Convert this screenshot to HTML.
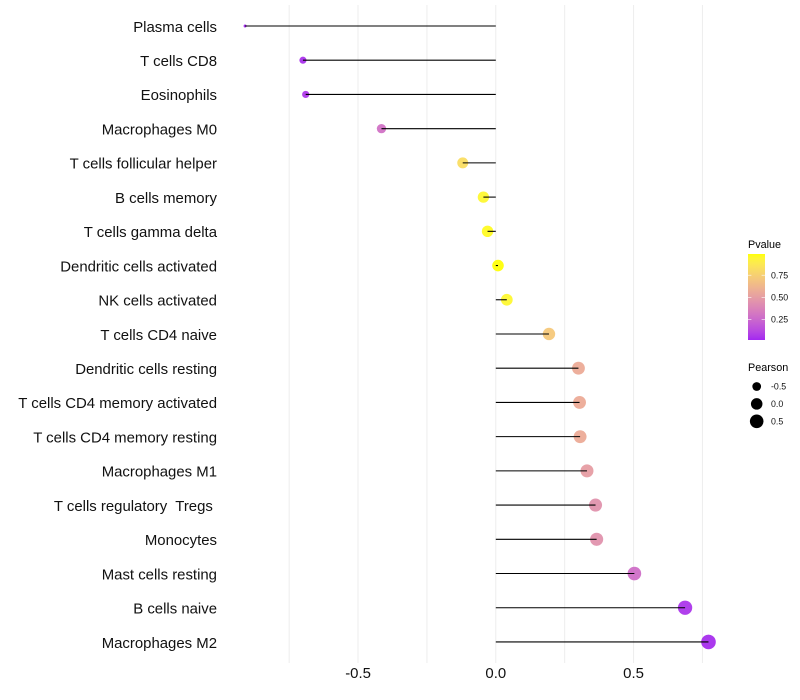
<!DOCTYPE html>
<html>
<head>
<meta charset="utf-8">
<title>Immune cell correlation lollipop chart</title>
<style>
html,body{margin:0;padding:0;background:#fff;}
svg{display:block;font-family:"Liberation Sans",sans-serif;}
text{white-space:pre;}
</style>
</head>
<body>
<svg id="chart" xmlns="http://www.w3.org/2000/svg" width="800" height="700" viewBox="0 0 800 700">
  <defs>
    <linearGradient id="pvalue-gradient" x1="0" y1="1" x2="0" y2="0"></linearGradient>
  </defs>
  <rect width="800" height="700" fill="#fff"/>
  <g id="grid"></g>
  <g id="dots"></g>
  <g id="stems"></g>
  <g id="ylabels"></g>
  <g id="xlabels"></g>
  <g id="legend-color"></g>
  <g id="legend-size"></g>
</svg>
<script>
var categories = ["Plasma cells","T cells CD8","Eosinophils","Macrophages M0","T cells follicular helper","B cells memory","T cells gamma delta","Dendritic cells activated","NK cells activated","T cells CD4 naive","Dendritic cells resting","T cells CD4 memory activated","T cells CD4 memory resting","Macrophages M1","T cells regulatory  Tregs ","Monocytes","Mast cells resting","B cells naive","Macrophages M2"];
var pearson = [-0.91,-0.70,-0.69,-0.415,-0.12,-0.045,-0.03,0.008,0.04,0.193,0.30,0.304,0.306,0.331,0.362,0.366,0.503,0.687,0.772];
var pvalues = [0.02,0.05,0.07,0.30,0.82,0.95,0.97,0.99,0.95,0.72,0.57,0.57,0.57,0.50,0.45,0.45,0.28,0.06,0.04];
var xGridValues = [-0.75,-0.5,-0.25,0,0.25,0.5,0.75];
var xTickValues = [-0.5,0,0.5];
var xTickLabels = ["-0.5","0.0","0.5"];
var colorTickValues = [0.25,0.5,0.75];
var colorTickLabels = ["0.25","0.50","0.75"];
var sizeLegendValues = [-0.5,0,0.5];
var sizeLegendLabels = ["-0.5","0.0","0.5"];

var NS = "http://www.w3.org/2000/svg";
function make(tag, parentId, attrs, text) {
  var el = document.createElementNS(NS, tag);
  for (var k in attrs) { el.setAttribute(k, attrs[k]); }
  if (text !== undefined) { el.textContent = text; }
  document.getElementById(parentId).appendChild(el);
  return el;
}

/* axis functions */
function xScale(v) { return 495.8 + v * 275.5; }
function yScale(i) { return 26 + i * 34.22; }
function pToLegendY(p) { return 341.8 - p * 88.8; }
function sizeScale(v) {
  var lo = -0.91, hi = 0.772;
  var t = Math.max(0, Math.min(1, (v - lo) / (hi - lo)));
  return 1.5 + 5.8 * Math.sqrt(t);
}

/* Lab colour interpolation purple -> yellow */
function srgbToLin(c) { c /= 255; return c <= 0.04045 ? c / 12.92 : Math.pow((c + 0.055) / 1.055, 2.4); }
function linToSrgb(c) { var v = c <= 0.0031308 ? 12.92 * c : 1.055 * Math.pow(c, 1 / 2.4) - 0.055; return Math.round(255 * Math.max(0, Math.min(1, v))); }
function fLab(t) { return t > 0.008856 ? Math.cbrt(t) : 7.787 * t + 16 / 116; }
function fInv(t) { var c = t * t * t; return c > 0.008856 ? c : (t - 16 / 116) / 7.787; }
function toLab(rgb) {
  var r = srgbToLin(rgb[0]), g = srgbToLin(rgb[1]), b = srgbToLin(rgb[2]);
  var x = (0.4124 * r + 0.3576 * g + 0.1805 * b) / 0.95047;
  var y = 0.2126 * r + 0.7152 * g + 0.0722 * b;
  var z = (0.0193 * r + 0.1192 * g + 0.9505 * b) / 1.08883;
  return [116 * fLab(y) - 16, 500 * (fLab(x) - fLab(y)), 200 * (fLab(y) - fLab(z))];
}
function fromLab(l) {
  var fy = (l[0] + 16) / 116, fx = fy + l[1] / 500, fz = fy - l[2] / 200;
  var x = fInv(fx) * 0.95047, y = fInv(fy), z = fInv(fz) * 1.08883;
  var r = 3.2406 * x - 1.5372 * y - 0.4986 * z;
  var g = -0.9689 * x + 1.8758 * y + 0.0415 * z;
  var b = 0.0557 * x - 0.2040 * y + 1.0570 * z;
  return "rgb(" + linToSrgb(r) + "," + linToSrgb(g) + "," + linToSrgb(b) + ")";
}
var labLow = toLab([160, 32, 240]);
var labHigh = toLab([255, 255, 0]);
function colorScale(p) {
  var t = Math.max(0, Math.min(1, (p - 0.02) / 0.97));
  return fromLab([
    labLow[0] + (labHigh[0] - labLow[0]) * t,
    labLow[1] + (labHigh[1] - labLow[1]) * t,
    labLow[2] + (labHigh[2] - labLow[2]) * t
  ]);
}

/* grid */
xGridValues.forEach(function (v) {
  var g = make("line", "grid", {x1: xScale(v), x2: xScale(v), y1: 5, y2: 663, stroke: "#ededed", "stroke-width": 1});
  
  
});

/* marks */
categories.forEach(function (name, i) {
  var dot = make("circle", "dots", {cx: xScale(pearson[i]), cy: yScale(i), r: sizeScale(pearson[i]), fill: colorScale(pvalues[i]), "fill-opacity": 0.92});
  
  

  var stem = make("line", "stems", {x1: xScale(0), x2: xScale(pearson[i]), y1: yScale(i), y2: yScale(i), stroke: "#000", "stroke-width": 1.07});
  
  

  var label = make("text", "ylabels", {x: 217, y: yScale(i) + 5.8, "text-anchor": "end", "font-size": 14.93, fill: "#111"}, name);
  
  
});

/* x tick labels */
xTickValues.forEach(function (v, i) {
  var t = make("text", "xlabels", {x: xScale(v), y: 678, "text-anchor": "middle", "font-size": 14.93, fill: "#111"}, xTickLabels[i]);
  
  
});

/* colour legend */
var grad = document.getElementById("pvalue-gradient");
for (var s = 0; s <= 20; s++) {
  var stop = document.createElementNS(NS, "stop");
  stop.setAttribute("offset", (s / 20));
  stop.setAttribute("stop-color", colorScale(0.02 + 0.97 * s / 20));
  grad.appendChild(stop);
}
var colorTitle = make("text", "legend-color", {x: 748, y: 248, "font-size": 10.8, fill: "#000"}, "Pvalue");


var colorBar = make("rect", "legend-color", {x: 748, y: 254, width: 17, height: 86, fill: "url(#pvalue-gradient)", "fill-opacity": 0.97});


colorTickValues.forEach(function (p, i) {
  var y = pToLegendY(p);
  var t1 = make("line", "legend-color", {x1: 748, x2: 751.4, y1: y, y2: y, stroke: "#fff", "stroke-width": 0.6});
  
  
  var t2 = make("line", "legend-color", {x1: 761.6, x2: 765, y1: y, y2: y, stroke: "#fff", "stroke-width": 0.6});
  
  
  var lab = make("text", "legend-color", {x: 771, y: y + 3.1, "font-size": 8.8, fill: "#111"}, colorTickLabels[i]);
  
  
});

/* size legend */
var sizeTitle = make("text", "legend-size", {x: 748, y: 371, "font-size": 10.8, fill: "#000"}, "Pearson");


sizeLegendValues.forEach(function (v, i) {
  var y = 386.5 + i * 17.4;
  var key = make("circle", "legend-size", {cx: 756.7, cy: y, r: sizeScale(v), fill: "#000"});
  
  
  var lab = make("text", "legend-size", {x: 771, y: y + 3.1, "font-size": 8.8, fill: "#111"}, sizeLegendLabels[i]);
  
  
});
</script>
</body>
</html>
